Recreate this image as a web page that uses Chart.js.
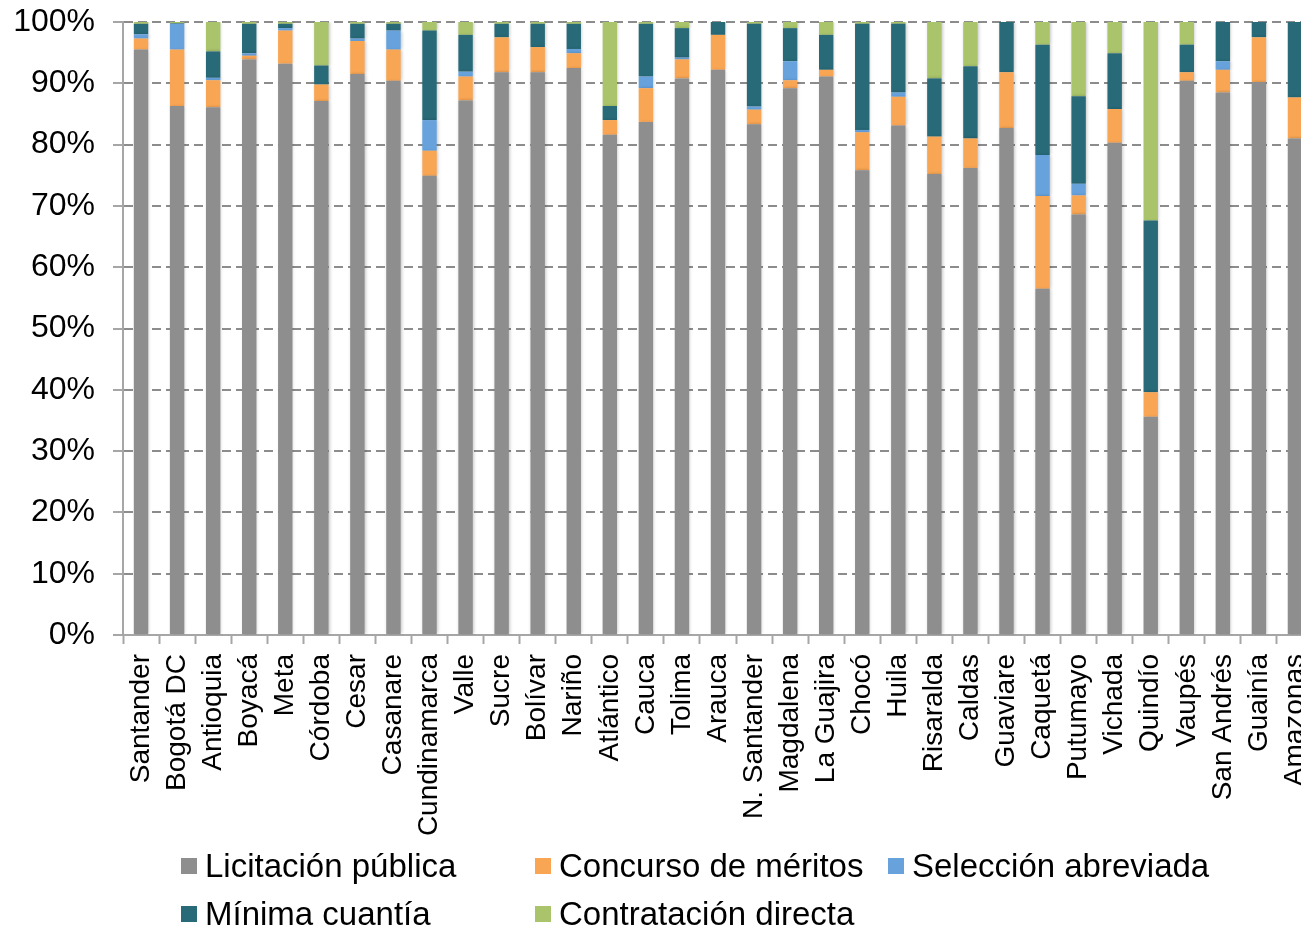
<!DOCTYPE html>
<html lang="es">
<head>
<meta charset="utf-8">
<title>Modalidades de contratación por departamento</title>
<script src="https://cdn.jsdelivr.net/npm/chart.js@4.4.1/dist/chart.umd.min.js"></script>
<style>
    html, body { margin: 0; padding: 0; background: #fff; overflow: hidden; }
    #wrap { position: relative; width: 1301px; height: 930px; overflow: hidden; }
    #chartBox { position: absolute; left: 0; top: 0; width: 1340px; height: 845px; }
    #leyenda { position: absolute; left: 0; top: 0; width: 1301px; height: 930px; font-family: "Liberation Sans", Arial, sans-serif; }
    .item { position: absolute; display: flex; align-items: center; white-space: nowrap; font-size: 33px; color: #000; }
    .caja { width: 16px; height: 16px; margin-right: 8px; }
</style>
</head>
<body>
<div id="wrap">
    <div id="chartBox"><canvas id="modalidadesChart" width="1340" height="845"></canvas></div>
    <div id="leyenda"></div>
</div>
<script>
// Datos (porcentaje por modalidad)
const departamentos = ['Santander', 'Bogotá DC', 'Antioquia', 'Boyacá', 'Meta', 'Córdoba', 'Cesar', 'Casanare',
    'Cundinamarca', 'Valle', 'Sucre', 'Bolívar', 'Nariño', 'Atlántico', 'Cauca', 'Tolima', 'Arauca',
    'N. Santander', 'Magdalena', 'La Guajira', 'Chocó', 'Huila', 'Risaralda', 'Caldas', 'Guaviare',
    'Caquetá', 'Putumayo', 'Vichada', 'Quindío', 'Vaupés', 'San Andrés', 'Guainía', 'Amazonas'];

const licitacionPublica = [95.5, 86.3, 86.1, 93.9, 93.2, 87.1, 91.5, 90.4, 74.9, 87.2, 91.8, 91.8, 92.5, 81.6, 83.7, 90.8, 92.2,
    83.3, 89.2, 91.1, 75.8, 83.1, 75.2, 76.2, 82.7, 56.5, 68.6, 80.3, 35.6, 90.4, 88.5, 90.2, 81.0];
const concursoMeritos = [1.8, 9.2, 4.4, 0.6, 5.4, 2.7, 5.4, 5.1, 4.1, 3.9, 5.7, 4.1, 2.4, 2.4, 5.5, 3.1, 5.7,
    2.4, 1.3, 1.1, 6.2, 4.7, 6.1, 4.8, 9.1, 15.1, 3.1, 5.5, 4.0, 1.4, 3.7, 7.3, 6.7];
const seleccionAbreviada = [0.7, 4.2, 0.4, 0.4, 0.4, 0, 0.4, 3.1, 5.0, 0.8, 0, 0, 0.7, 0, 1.9, 0.3, 0,
    0.5, 3.1, 0, 0.4, 0.7, 0, 0, 0, 6.7, 1.9, 0, 0, 0, 1.4, 0, 0];
const minimaCuantia = [1.7, 0.1, 4.3, 4.8, 0.7, 3.1, 2.4, 1.1, 14.6, 6.0, 2.2, 3.8, 4.1, 2.3, 8.6, 4.8, 2.1,
    13.5, 5.4, 5.7, 17.3, 11.2, 9.5, 11.8, 8.2, 18.0, 14.3, 9.1, 28.0, 4.5, 6.4, 2.5, 12.3];
const contratacionDirecta = [0.3, 0.2, 4.8, 0.3, 0.3, 7.1, 0.3, 0.3, 1.4, 2.1, 0.3, 0.3, 0.3, 13.7, 0.3, 1.0, 0,
    0.3, 1.0, 2.1, 0.3, 0.3, 9.2, 7.2, 0, 3.7, 12.1, 5.1, 32.4, 3.7, 0, 0, 0];

const nombresSeries = ['Licitación pública', 'Concurso de méritos', 'Selección abreviada', 'Mínima cuantía', 'Contratación directa'];
const coloresSeries = ['#8e8e8e', '#f9a654', '#67a2dd', '#286a78', '#a9c46b'];
const marcasEje = [0, 10, 20, 30, 40, 50, 60, 70, 80, 90, 100];

document.addEventListener('DOMContentLoaded', function() {
    try {
        const fuente = '"Liberation Sans", Arial, sans-serif';
        const valores = [licitacionPublica, concursoMeritos, seleccionAbreviada, minimaCuantia, contratacionDirecta];

        const datasets = nombresSeries.map((nombre, i) => ({
            label: nombre,
            data: valores[i],
            backgroundColor: coloresSeries[i],
            borderWidth: 0,
            categoryPercentage: 1,
            barPercentage: 0.4
        }));

        // Sombra suave de las barras
        const sombraBarras = {
            id: 'sombraBarras',
            beforeDatasetsDraw(chart) {
                const ctx = chart.ctx;
                ctx.save();
                ctx.shadowColor = 'rgba(0,0,0,0.22)';
                ctx.shadowBlur = 3;
                ctx.shadowOffsetX = 1;
            },
            afterDatasetsDraw(chart) {
                chart.ctx.restore();
            }
        };

        const ctx = document.getElementById('modalidadesChart').getContext('2d');
        new Chart(ctx, {
            type: 'bar',
            data: { labels: departamentos, datasets: datasets },
            plugins: [sombraBarras],
            options: {
                responsive: false,
                animation: false,
                layout: { padding: { top: 22, right: 27, left: 0, bottom: 0 } },
                plugins: {
                    legend: { display: false },
                    tooltip: { enabled: false }
                },
                scales: {
                    x: {
                        stacked: true,
                        afterFit: function(scale) { scale.height = 210; },
                        grid: {
                            drawOnChartArea: false,
                            drawTicks: true,
                            tickLength: 9,
                            tickColor: '#a6a6a6',
                            tickWidth: 2,
                            offset: true
                        },
                        border: { color: '#a6a6a6', width: 2 },
                        ticks: {
                            autoSkip: false,
                            maxRotation: 90,
                            minRotation: 90,
                            padding: 10,
                            color: '#000',
                            font: { family: fuente, size: 28 }
                        }
                    },
                    y: {
                        stacked: true,
                        min: 0,
                        max: 100,
                        afterFit: function(scale) {
                            scale.width = 123;
                            scale.paddingTop = 0;
                            scale.paddingBottom = 0;
                        },
                        afterBuildTicks: function(scale) {
                            scale.ticks = marcasEje.map(v => ({ value: v }));
                        },
                        grid: {
                            color: c => (c.tick && c.tick.value === 0) ? 'rgba(0,0,0,0)' : '#8c8c8c',
                            lineWidth: 2,
                            tickLength: 10,
                            tickColor: '#a6a6a6',
                            tickWidth: 2
                        },
                        border: { color: '#a6a6a6', width: 2, dash: [9, 5] },
                        ticks: {
                            padding: 18,
                            color: '#000',
                            font: { family: fuente, size: 32 },
                            callback: function(value) { return value + '%'; }
                        }
                    }
                }
            }
        });

        // Leyenda en dos filas con columnas alineadas
        const columnasX = [181, 535, 888];
        const filasY = [866, 914];
        const leyenda = document.getElementById('leyenda');
        nombresSeries.forEach((nombre, i) => {
            const item = document.createElement('div');
            item.className = 'item';
            item.style.left = columnasX[i % 3] + 'px';
            item.style.top = (filasY[Math.floor(i / 3)] - 18) + 'px';
            item.style.height = '36px';
            const caja = document.createElement('span');
            caja.className = 'caja';
            caja.style.background = coloresSeries[i];
            const texto = document.createElement('span');
            texto.textContent = nombre;
            item.appendChild(caja);
            item.appendChild(texto);
            leyenda.appendChild(item);
        });
    } catch (error) {
        console.error('Error al crear el gráfico:', error);
    }
});
</script>
</body>
</html>
